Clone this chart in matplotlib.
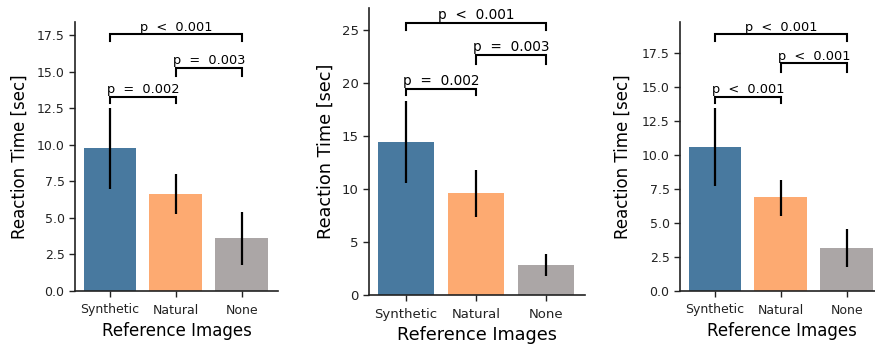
import matplotlib
matplotlib.use("Agg")
import matplotlib.pyplot as plt

categories = ["Synthetic", "Natural", "None"]
colors = ["#48799f", "#fdaa71", "#aba6a6"]

means1 = [9.80, 6.63, 3.62]
err_lo1 = [6.97, 5.28, 1.78]
err_hi1 = [12.49, 8.00, 5.40]
pvals1 = ["p = 0.002", "p = 0.003", "p < 0.001"]

means2 = [14.38, 9.61, 2.85]
err_lo2 = [10.55, 7.33, 1.81]
err_hi2 = [18.26, 11.80, 3.88]
pvals2 = ["p = 0.002", "p = 0.003", "p < 0.001"]

means3 = [10.60, 6.92, 3.17]
err_lo3 = [7.73, 5.54, 1.79]
err_hi3 = [13.45, 8.17, 4.59]
pvals3 = ["p < 0.001", "p < 0.001", "p < 0.001"]

# bracket heights (top line, drop) for pairs (0,1), (1,2), (0,2)
brk1 = [(13.29, 12.87), (15.27, 14.72), (17.55, 17.09)]
brk2 = [(19.45, 18.82), (22.65, 21.80), (25.66, 25.00)]
brk3 = [(14.30, 13.86), (16.76, 16.15), (18.90, 18.40)]
pairs = [(0, 1), (1, 2), (0, 2)]

W, H = 875, 348
fig = plt.figure(figsize=(W / 100, H / 100), dpi=100)

panels = [
    dict(rect=[75 / W, 57 / H, 203 / W, 269 / H], m=means1, lo=err_lo1, hi=err_hi1,
         p=pvals1, b=brk1, ylim=18.4, ticks=[0, 2.5, 5, 7.5, 10, 12.5, 15, 17.5], fmt="{:.1f}",
         fs=1.0, xpad=5, xlp=4, ylp=6),
    dict(rect=[369 / W, 52.7 / H, 216 / W, 287 / H], m=means2, lo=err_lo2, hi=err_hi2,
         p=pvals2, b=brk2, ylim=27.0, ticks=[0, 5, 10, 15, 20, 25], fmt="{:.0f}",
         fs=1.06, xpad=5.5, xlp=3, ylp=5),
    dict(rect=[680 / W, 57 / H, 203 / W, 269.3 / H], m=means3, lo=err_lo3, hi=err_hi3,
         p=pvals3, b=brk3, ylim=19.82, ticks=[0, 2.5, 5, 7.5, 10, 12.5, 15, 17.5], fmt="{:.1f}",
         fs=1.0, xpad=5, xlp=4, ylp=7),
]

for pn in panels:
    ax = fig.add_axes(pn["rect"])
    x = list(range(len(categories)))
    yerr = [[m - l for m, l in zip(pn["m"], pn["lo"])],
            [h - m for m, h in zip(pn["m"], pn["hi"])]]
    ax.bar(x, pn["m"], width=0.8, color=colors, zorder=1)
    ax.errorbar(x, pn["m"], yerr=yerr, fmt="none", ecolor="black", elinewidth=1.6,
                capsize=0, zorder=2)
    ax.set_xlim(-0.53, 2.55)
    ax.set_ylim(0, pn["ylim"])
    ax.set_yticks(pn["ticks"])
    ax.set_yticklabels([pn["fmt"].format(t) for t in pn["ticks"]])
    ax.set_xticks(x)
    ax.set_xticklabels(categories)
    s = pn["fs"]
    ax.tick_params(axis="both", labelsize=9 * s, length=4, width=1, colors="#222222")
    ax.tick_params(axis="x", pad=pn["xpad"])
    ax.spines["top"].set_visible(False)
    ax.spines["right"].set_visible(False)
    for sp in ["left", "bottom"]:
        ax.spines[sp].set_linewidth(1.2)
        ax.spines[sp].set_color("#222222")
    ax.set_xlabel("Reference Images", fontsize=12 * s, labelpad=pn["xlp"])
    ax.set_ylabel("Reaction Time [sec]", fontsize=12 * s, labelpad=pn["ylp"])
    for (i, j), (top, drop), txt in zip(pairs, pn["b"], pn["p"]):
        ax.plot([i, i, j, j], [drop, top, top, drop], color="black", lw=1.5,
                solid_joinstyle="miter", clip_on=False)
        label = "  ".join(txt.split(" "))
        ax.text((i + j) / 2, top + pn["ylim"] * 0.002, label, ha="center", va="bottom",
                fontsize=9.3 * s, clip_on=False)

fig.savefig("out.png", dpi=100)
